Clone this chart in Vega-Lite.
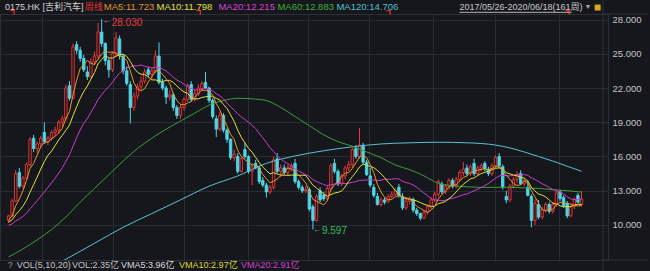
{
"$schema":"https://vega.github.io/schema/vega-lite/v6.json",
"width":608,"height":246,
"autosize":{"type":"none"},
"padding":{"left":0,"top":14,"right":42,"bottom":11},
"background":"#16171c",
"config":{"view":{"stroke":"#2e3037","strokeWidth":1},"text":{"font":"Liberation Sans, Noto Sans CJK SC"},
 "axis":{"gridColor":"#2a2c33","labelColor":"#c4c4c4","ticks":false,"domain":false,"title":null}},
"datasets":{
"k":[
{"i":0,"o":10.4,"h":10.9,"l":10.2,"c":10.8,"m5":10.44,"m10":10.24,"m20":9.97},
{"i":1,"o":10.8,"h":12.3,"l":10.7,"c":12.1,"m5":10.80,"m10":10.46,"m20":10.10},
{"i":2,"o":12.1,"h":14.8,"l":12.0,"c":14.5,"m5":11.68,"m10":10.91,"m20":10.36},
{"i":3,"o":14.6,"h":15.0,"l":13.2,"c":13.4,"m5":12.28,"m10":11.24,"m20":10.52},
{"i":4,"o":13.4,"h":14.3,"l":13.2,"c":14.1,"m5":12.98,"m10":11.65,"m20":10.75},
{"i":5,"o":14.1,"h":15.5,"l":14.0,"c":15.3,"m5":13.88,"m10":12.16,"m20":11.03},
{"i":6,"o":15.3,"h":17.7,"l":15.1,"c":17.5,"m5":14.96,"m10":12.88,"m20":11.42},
{"i":7,"o":17.6,"h":17.9,"l":16.4,"c":16.7,"m5":15.40,"m10":13.54,"m20":11.77},
{"i":8,"o":16.7,"h":17.3,"l":16.3,"c":17.1,"m5":16.14,"m10":14.21,"m20":12.13},
{"i":9,"o":17.1,"h":17.8,"l":16.8,"c":17.6,"m5":16.84,"m10":14.91,"m20":12.53},
{"i":10,"o":18.1,"h":19.0,"l":17.1,"c":17.3,"m5":17.24,"m10":15.56,"m20":12.90},
{"i":11,"o":17.3,"h":17.8,"l":17.0,"c":17.6,"m5":17.26,"m10":16.11,"m20":13.29},
{"i":12,"o":17.6,"h":18.3,"l":17.4,"c":18.1,"m5":17.54,"m10":16.47,"m20":13.69},
{"i":13,"o":18.1,"h":18.6,"l":17.8,"c":18.3,"m5":17.78,"m10":16.96,"m20":14.10},
{"i":14,"o":18.3,"h":19.2,"l":18.0,"c":19.0,"m5":18.06,"m10":17.45,"m20":14.55},
{"i":15,"o":19.0,"h":19.6,"l":18.6,"c":19.3,"m5":18.46,"m10":17.85,"m20":15.01},
{"i":16,"o":19.3,"h":22.3,"l":19.1,"c":22.0,"m5":19.34,"m10":18.30,"m20":15.59},
{"i":17,"o":22.2,"h":22.6,"l":20.9,"c":21.1,"m5":19.94,"m10":18.74,"m20":16.14},
{"i":18,"o":21.1,"h":25.9,"l":21.0,"c":25.6,"m5":21.40,"m10":19.59,"m20":16.90},
{"i":19,"o":25.8,"h":26.1,"l":25.0,"c":25.3,"m5":22.66,"m10":20.36,"m20":17.64},
{"i":20,"o":25.3,"h":25.6,"l":24.3,"c":24.6,"m5":23.72,"m10":21.09,"m20":18.33},
{"i":21,"o":24.6,"h":24.9,"l":23.4,"c":23.6,"m5":24.04,"m10":21.69,"m20":18.90},
{"i":22,"o":23.4,"h":23.9,"l":22.7,"c":23.0,"m5":24.42,"m10":22.18,"m20":19.33},
{"i":23,"o":23.0,"h":24.6,"l":22.8,"c":24.3,"m5":24.16,"m10":22.78,"m20":19.87},
{"i":24,"o":24.3,"h":25.2,"l":24.0,"c":24.8,"m5":24.06,"m10":23.36,"m20":20.41},
{"i":25,"o":24.8,"h":27.7,"l":24.5,"c":26.9,"m5":24.52,"m10":24.12,"m20":20.99},
{"i":26,"o":26.9,"h":28.03,"l":25.6,"c":25.9,"m5":24.98,"m10":24.51,"m20":21.41},
{"i":27,"o":25.9,"h":26.0,"l":24.0,"c":24.4,"m5":25.26,"m10":24.84,"m20":21.79},
{"i":28,"o":24.4,"h":24.6,"l":22.9,"c":23.6,"m5":25.12,"m10":24.64,"m20":22.12},
{"i":29,"o":23.6,"h":25.2,"l":23.4,"c":25.0,"m5":25.16,"m10":24.61,"m20":22.49},
{"i":30,"o":25.0,"h":26.9,"l":24.8,"c":26.4,"m5":25.06,"m10":24.79,"m20":22.94},
{"i":31,"o":26.3,"h":26.6,"l":24.5,"c":24.8,"m5":24.84,"m10":24.91,"m20":23.30},
{"i":32,"o":24.8,"h":25.0,"l":23.2,"c":23.5,"m5":24.66,"m10":24.96,"m20":23.57},
{"i":33,"o":23.5,"h":23.9,"l":22.2,"c":22.4,"m5":24.42,"m10":24.77,"m20":23.78},
{"i":34,"o":22.3,"h":22.6,"l":18.9,"c":20.3,"m5":23.48,"m10":24.32,"m20":23.84},
{"i":35,"o":20.3,"h":21.6,"l":20.0,"c":21.3,"m5":22.46,"m10":23.76,"m20":23.94},
{"i":36,"o":21.3,"h":22.4,"l":21.0,"c":22.1,"m5":21.92,"m10":23.38,"m20":23.95},
{"i":37,"o":22.1,"h":23.0,"l":21.8,"c":22.6,"m5":21.74,"m10":23.20,"m20":24.02},
{"i":38,"o":22.6,"h":23.7,"l":22.4,"c":23.4,"m5":21.94,"m10":23.18,"m20":23.91},
{"i":39,"o":23.6,"h":23.9,"l":22.9,"c":23.2,"m5":22.52,"m10":23.00,"m20":23.81},
{"i":40,"o":23.2,"h":23.8,"l":22.8,"c":23.5,"m5":22.96,"m10":22.71,"m20":23.75},
{"i":41,"o":23.5,"h":25.3,"l":23.3,"c":24.8,"m5":23.50,"m10":22.71,"m20":23.81},
{"i":42,"o":24.8,"h":26.0,"l":22.3,"c":22.5,"m5":23.48,"m10":22.61,"m20":23.79},
{"i":43,"o":22.5,"h":22.8,"l":21.8,"c":22.0,"m5":23.20,"m10":22.57,"m20":23.67},
{"i":44,"o":22.0,"h":22.2,"l":20.6,"c":21.2,"m5":22.80,"m10":22.66,"m20":23.49},
{"i":45,"o":21.2,"h":21.8,"l":20.9,"c":21.4,"m5":22.38,"m10":22.67,"m20":23.22},
{"i":46,"o":21.4,"h":21.6,"l":20.0,"c":20.3,"m5":21.48,"m10":22.49,"m20":22.94},
{"i":47,"o":20.3,"h":20.5,"l":19.3,"c":19.6,"m5":20.90,"m10":22.19,"m20":22.70},
{"i":48,"o":19.6,"h":20.6,"l":19.3,"c":20.3,"m5":20.56,"m10":21.88,"m20":22.53},
{"i":49,"o":20.3,"h":21.2,"l":20.0,"c":21.0,"m5":20.52,"m10":21.66,"m20":22.33},
{"i":50,"o":21.0,"h":22.4,"l":20.8,"c":22.2,"m5":20.68,"m10":21.53,"m20":22.12},
{"i":51,"o":22.3,"h":22.6,"l":20.8,"c":21.0,"m5":20.82,"m10":21.15,"m20":21.93},
{"i":52,"o":21.0,"h":21.8,"l":20.8,"c":21.5,"m5":21.20,"m10":21.05,"m20":21.83},
{"i":53,"o":21.5,"h":22.3,"l":21.3,"c":22.0,"m5":21.54,"m10":21.05,"m20":21.81},
{"i":54,"o":21.9,"h":22.6,"l":21.7,"c":22.4,"m5":21.82,"m10":21.17,"m20":21.92},
{"i":55,"o":22.5,"h":23.4,"l":21.9,"c":22.0,"m5":21.78,"m10":21.23,"m20":21.95},
{"i":56,"o":22.0,"h":22.1,"l":20.7,"c":20.9,"m5":21.76,"m10":21.29,"m20":21.89},
{"i":57,"o":20.9,"h":21.1,"l":19.3,"c":19.5,"m5":21.36,"m10":21.28,"m20":21.74},
{"i":58,"o":19.3,"h":19.6,"l":17.7,"c":18.4,"m5":20.64,"m10":21.09,"m20":21.49},
{"i":59,"o":18.4,"h":19.9,"l":18.2,"c":19.6,"m5":20.08,"m10":20.95,"m20":21.31},
{"i":60,"o":19.6,"h":19.8,"l":18.1,"c":18.3,"m5":19.34,"m10":20.56,"m20":21.05},
{"i":61,"o":18.3,"h":18.5,"l":17.2,"c":17.5,"m5":18.66,"m10":20.21,"m20":20.68},
{"i":62,"o":17.5,"h":17.6,"l":15.7,"c":15.9,"m5":17.94,"m10":19.65,"m20":20.35},
{"i":63,"o":15.9,"h":16.6,"l":15.6,"c":16.2,"m5":17.50,"m10":19.07,"m20":20.06},
{"i":64,"o":16.0,"h":16.3,"l":14.5,"c":14.7,"m5":16.52,"m10":18.30,"m20":19.74},
{"i":65,"o":14.7,"h":16.0,"l":14.6,"c":15.8,"m5":16.02,"m10":17.68,"m20":19.46},
{"i":66,"o":16.6,"h":17.2,"l":15.8,"c":16.0,"m5":15.72,"m10":17.19,"m20":19.24},
{"i":67,"o":16.0,"h":16.1,"l":14.5,"c":14.7,"m5":15.48,"m10":16.71,"m20":19.00},
{"i":68,"o":14.7,"h":15.4,"l":13.5,"c":15.1,"m5":15.26,"m10":16.38,"m20":18.74},
{"i":69,"o":15.4,"h":15.7,"l":14.9,"c":15.0,"m5":15.32,"m10":15.92,"m20":18.44},
{"i":70,"o":15.0,"h":15.2,"l":13.6,"c":13.8,"m5":14.92,"m10":15.47,"m20":18.02},
{"i":71,"o":13.9,"h":14.2,"l":13.3,"c":13.5,"m5":14.42,"m10":15.07,"m20":17.64},
{"i":72,"o":13.5,"h":13.7,"l":12.4,"c":12.9,"m5":14.06,"m10":14.77,"m20":17.21},
{"i":73,"o":12.9,"h":13.5,"l":12.7,"c":13.3,"m5":13.70,"m10":14.48,"m20":16.78},
{"i":74,"o":13.3,"h":16.0,"l":13.1,"c":15.7,"m5":13.84,"m10":14.58,"m20":16.44},
{"i":75,"o":15.8,"h":16.3,"l":14.5,"c":14.7,"m5":14.02,"m10":14.47,"m20":16.08},
{"i":76,"o":14.7,"h":15.3,"l":14.2,"c":15.0,"m5":14.32,"m10":14.37,"m20":15.78},
{"i":77,"o":15.0,"h":15.3,"l":14.4,"c":14.6,"m5":14.66,"m10":14.36,"m20":15.54},
{"i":78,"o":14.6,"h":15.3,"l":14.3,"c":15.0,"m5":15.00,"m10":14.35,"m20":15.37},
{"i":79,"o":15.0,"h":15.4,"l":14.7,"c":15.2,"m5":14.90,"m10":14.37,"m20":15.15},
{"i":80,"o":15.4,"h":15.8,"l":13.6,"c":13.8,"m5":14.72,"m10":14.37,"m20":14.92},
{"i":81,"o":13.8,"h":14.0,"l":13.1,"c":13.3,"m5":14.38,"m10":14.35,"m20":14.71},
{"i":82,"o":13.3,"h":13.5,"l":12.8,"c":13.0,"m5":14.06,"m10":14.36,"m20":14.57},
{"i":83,"o":13.0,"h":13.4,"l":12.8,"c":13.1,"m5":13.68,"m10":14.34,"m20":14.41},
{"i":84,"o":13.1,"h":13.3,"l":11.2,"c":11.4,"m5":12.92,"m10":13.91,"m20":14.25},
{"i":85,"o":11.6,"h":11.8,"l":9.597,"c":10.4,"m5":12.24,"m10":13.48,"m20":13.98},
{"i":86,"o":10.4,"h":12.7,"l":10.3,"c":12.5,"m5":12.08,"m10":13.23,"m20":13.80},
{"i":87,"o":13.0,"h":13.3,"l":12.0,"c":12.2,"m5":11.92,"m10":12.99,"m20":13.68},
{"i":88,"o":12.6,"h":12.9,"l":12.1,"c":12.3,"m5":11.76,"m10":12.72,"m20":13.54},
{"i":89,"o":12.3,"h":13.4,"l":12.1,"c":13.2,"m5":12.12,"m10":12.52,"m20":13.45},
{"i":90,"o":13.2,"h":15.4,"l":13.0,"c":15.2,"m5":13.08,"m10":12.66,"m20":13.52},
{"i":91,"o":15.4,"h":15.8,"l":14.5,"c":14.7,"m5":13.52,"m10":12.80,"m20":13.58},
{"i":92,"o":14.7,"h":14.9,"l":13.4,"c":13.6,"m5":13.80,"m10":12.86,"m20":13.61},
{"i":93,"o":13.6,"h":14.5,"l":13.4,"c":14.3,"m5":14.20,"m10":12.98,"m20":13.66},
{"i":94,"o":14.3,"h":15.2,"l":14.0,"c":15.0,"m5":14.56,"m10":13.34,"m20":13.63},
{"i":95,"o":15.0,"h":15.6,"l":14.7,"c":15.3,"m5":14.58,"m10":13.83,"m20":13.66},
{"i":96,"o":15.3,"h":16.8,"l":15.0,"c":16.6,"m5":14.96,"m10":14.24,"m20":13.74},
{"i":97,"o":16.7,"h":17.0,"l":15.8,"c":16.0,"m5":15.44,"m10":14.62,"m20":13.81},
{"i":98,"o":16.0,"h":18.5,"l":15.8,"c":17.0,"m5":15.98,"m10":15.09,"m20":13.91},
{"i":99,"o":17.0,"h":17.2,"l":15.3,"c":15.5,"m5":16.08,"m10":15.32,"m20":13.92},
{"i":100,"o":15.5,"h":15.7,"l":14.3,"c":14.4,"m5":15.90,"m10":15.24,"m20":13.95},
{"i":101,"o":14.3,"h":15.0,"l":13.3,"c":13.5,"m5":15.28,"m10":15.12,"m20":13.96},
{"i":102,"o":13.3,"h":13.6,"l":12.4,"c":12.6,"m5":14.60,"m10":15.02,"m20":13.94},
{"i":103,"o":12.5,"h":12.8,"l":11.7,"c":11.8,"m5":13.56,"m10":14.77,"m20":13.88},
{"i":104,"o":11.8,"h":12.4,"l":11.6,"c":12.2,"m5":12.90,"m10":14.49,"m20":13.92},
{"i":105,"o":12.2,"h":12.4,"l":11.8,"c":12.0,"m5":12.42,"m10":14.16,"m20":14.00},
{"i":106,"o":12.1,"h":12.7,"l":11.9,"c":12.5,"m5":12.22,"m10":13.75,"m20":14.00},
{"i":107,"o":12.5,"h":12.9,"l":12.3,"c":12.7,"m5":12.24,"m10":13.42,"m20":14.02},
{"i":108,"o":12.7,"h":13.2,"l":12.5,"c":13.0,"m5":12.48,"m10":13.02,"m20":14.06},
{"i":109,"o":13.3,"h":13.6,"l":12.4,"c":12.6,"m5":12.56,"m10":12.73,"m20":14.03},
{"i":110,"o":12.5,"h":12.8,"l":11.3,"c":11.5,"m5":12.46,"m10":12.44,"m20":13.84},
{"i":111,"o":11.5,"h":12.3,"l":11.3,"c":12.1,"m5":12.38,"m10":12.30,"m20":13.71},
{"i":112,"o":12.1,"h":12.5,"l":11.8,"c":12.3,"m5":12.30,"m10":12.27,"m20":13.65},
{"i":113,"o":12.2,"h":12.4,"l":11.1,"c":11.3,"m5":11.96,"m10":12.22,"m20":13.50},
{"i":114,"o":11.3,"h":11.5,"l":10.8,"c":11.0,"m5":11.64,"m10":12.10,"m20":13.30},
{"i":115,"o":11.0,"h":11.1,"l":10.4,"c":10.6,"m5":11.46,"m10":11.96,"m20":13.06},
{"i":116,"o":10.6,"h":11.3,"l":10.5,"c":11.1,"m5":11.26,"m10":11.82,"m20":12.79},
{"i":117,"o":11.1,"h":11.8,"l":10.9,"c":11.6,"m5":11.12,"m10":11.71,"m20":12.57},
{"i":118,"o":11.6,"h":12.4,"l":11.4,"c":12.2,"m5":11.30,"m10":11.63,"m20":12.33},
{"i":119,"o":12.2,"h":12.9,"l":12.0,"c":12.7,"m5":11.64,"m10":11.64,"m20":12.19},
{"i":120,"o":12.7,"h":14.0,"l":12.5,"c":13.8,"m5":12.28,"m10":11.87,"m20":12.16},
{"i":121,"o":13.6,"h":13.8,"l":12.7,"c":12.9,"m5":12.64,"m10":11.95,"m20":12.13},
{"i":122,"o":12.9,"h":13.6,"l":12.7,"c":13.4,"m5":13.00,"m10":12.06,"m20":12.17},
{"i":123,"o":13.4,"h":14.1,"l":13.1,"c":13.9,"m5":13.34,"m10":12.32,"m20":12.27},
{"i":124,"o":13.9,"h":14.1,"l":13.2,"c":13.4,"m5":13.48,"m10":12.56,"m20":12.33},
{"i":125,"o":13.4,"h":14.2,"l":13.2,"c":14.0,"m5":13.52,"m10":12.90,"m20":12.43},
{"i":126,"o":14.0,"h":14.8,"l":13.8,"c":14.6,"m5":13.86,"m10":13.25,"m20":12.54},
{"i":127,"o":14.6,"h":15.5,"l":14.3,"c":14.9,"m5":14.16,"m10":13.58,"m20":12.65},
{"i":128,"o":15.0,"h":15.3,"l":14.3,"c":14.5,"m5":14.28,"m10":13.81,"m20":12.72},
{"i":129,"o":14.5,"h":15.3,"l":14.3,"c":15.1,"m5":14.62,"m10":14.05,"m20":12.85},
{"i":130,"o":15.4,"h":15.8,"l":14.3,"c":14.5,"m5":14.72,"m10":14.12,"m20":13.00},
{"i":131,"o":14.5,"h":15.2,"l":14.3,"c":15.0,"m5":14.80,"m10":14.33,"m20":13.14},
{"i":132,"o":15.0,"h":15.4,"l":14.7,"c":15.2,"m5":14.86,"m10":14.51,"m20":13.29},
{"i":133,"o":15.4,"h":15.6,"l":14.7,"c":14.9,"m5":14.94,"m10":14.61,"m20":13.47},
{"i":134,"o":14.9,"h":15.1,"l":14.3,"c":14.5,"m5":14.82,"m10":14.72,"m20":13.64},
{"i":135,"o":14.5,"h":15.4,"l":14.3,"c":15.2,"m5":14.96,"m10":14.84,"m20":13.87},
{"i":136,"o":15.2,"h":16.1,"l":15.0,"c":15.9,"m5":15.14,"m10":14.97,"m20":14.11},
{"i":137,"o":16.0,"h":16.3,"l":15.0,"c":15.2,"m5":15.14,"m10":15.00,"m20":14.29},
{"i":138,"o":15.1,"h":15.3,"l":13.1,"c":13.3,"m5":14.82,"m10":14.88,"m20":14.35},
{"i":139,"o":12.5,"h":13.0,"l":11.9,"c":12.2,"m5":14.36,"m10":14.59,"m20":14.32},
{"i":140,"o":12.2,"h":13.6,"l":12.0,"c":13.4,"m5":14.00,"m10":14.48,"m20":14.30},
{"i":141,"o":13.4,"h":14.2,"l":13.2,"c":14.0,"m5":13.62,"m10":14.38,"m20":14.36},
{"i":142,"o":14.0,"h":14.7,"l":13.7,"c":14.4,"m5":13.46,"m10":14.30,"m20":14.41},
{"i":143,"o":14.5,"h":14.8,"l":13.5,"c":13.6,"m5":13.52,"m10":14.17,"m20":14.39},
{"i":144,"o":13.6,"h":14.1,"l":13.4,"c":13.9,"m5":13.86,"m10":14.11,"m20":14.42},
{"i":145,"o":13.3,"h":13.9,"l":12.5,"c":12.6,"m5":13.70,"m10":13.85,"m20":14.35},
{"i":146,"o":12.5,"h":12.7,"l":9.8,"c":10.4,"m5":12.98,"m10":13.30,"m20":14.14},
{"i":147,"o":10.4,"h":12.3,"l":10.0,"c":11.9,"m5":12.48,"m10":12.97,"m20":13.99},
{"i":148,"o":11.8,"h":12.2,"l":10.5,"c":10.7,"m5":11.90,"m10":12.71,"m20":13.80},
{"i":149,"o":10.7,"h":11.6,"l":10.5,"c":11.3,"m5":11.38,"m10":12.62,"m20":13.61},
{"i":150,"o":11.3,"h":12.0,"l":11.1,"c":11.8,"m5":11.22,"m10":12.46,"m20":13.47},
{"i":151,"o":11.8,"h":12.0,"l":11.0,"c":11.2,"m5":11.38,"m10":12.18,"m20":13.28},
{"i":152,"o":11.2,"h":12.0,"l":11.0,"c":11.8,"m5":11.36,"m10":11.92,"m20":13.11},
{"i":153,"o":11.8,"h":13.0,"l":11.6,"c":12.8,"m5":11.78,"m10":11.84,"m20":13.01},
{"i":154,"o":12.9,"h":13.1,"l":12.1,"c":12.3,"m5":11.98,"m10":11.68,"m20":12.90},
{"i":155,"o":12.4,"h":12.6,"l":11.5,"c":11.7,"m5":11.96,"m10":11.59,"m20":12.72},
{"i":156,"o":11.9,"h":12.1,"l":10.6,"c":10.8,"m5":11.88,"m10":11.63,"m20":12.47},
{"i":157,"o":10.8,"h":11.8,"l":10.7,"c":11.6,"m5":11.84,"m10":11.60,"m20":12.29},
{"i":158,"o":11.6,"h":12.4,"l":11.4,"c":12.2,"m5":11.72,"m10":11.75,"m20":12.23},
{"i":159,"o":12.6,"h":12.8,"l":11.9,"c":12.0,"m5":11.66,"m10":11.82,"m20":12.22},
{"i":160,"o":11.8,"h":13.0,"l":11.6,"c":12.3,"m5":11.72,"m10":11.80,"m20":12.215}
],
"slow":[
{"i":0,"m60":7.2,"m120":4.3},{"i":4,"m60":7.9},{"i":8,"m60":8.7,"m120":5.6},{"i":12,"m60":9.6},{"i":16,"m60":10.7,"m120":7.0},{"i":20,"m60":12.0},{"i":24,"m60":13.2,"m120":8.4},{"i":28,"m60":14.4},{"i":32,"m60":15.6,"m120":9.8},{"i":36,"m60":16.7},{"i":40,"m60":17.6,"m120":11.0},{"i":44,"m60":18.4},{"i":48,"m60":19.1,"m120":12.2},{"i":52,"m60":19.8},{"i":56,"m60":20.5,"m120":13.4},{"i":60,"m60":20.9},{"i":64,"m60":21.1,"m120":14.3},{"i":68,"m60":21.05},{"i":72,"m60":20.9,"m120":15.4},{"i":76,"m60":20.3},{"i":80,"m60":19.5,"m120":16.05},{"i":84,"m60":18.7},{"i":88,"m60":17.9,"m120":16.5},{"i":92,"m60":17.3},{"i":96,"m60":16.9,"m120":16.85},{"i":100,"m60":16.4},{"i":104,"m60":15.9,"m120":17.1},{"i":108,"m60":15.25},{"i":112,"m60":14.85,"m120":17.2},{"i":116,"m60":14.3},{"i":120,"m60":13.65,"m120":17.25},{"i":124,"m60":13.45},{"i":128,"m60":13.35,"m120":17.2},{"i":132,"m60":13.3},{"i":136,"m60":13.3,"m120":17.0},{"i":140,"m60":13.3,"m120":16.75},{"i":144,"m60":13.25,"m120":16.4},{"i":148,"m60":13.2,"m120":16.0},{"i":152,"m60":13.1,"m120":15.6},{"i":156,"m60":13.0,"m120":15.15},{"i":160,"m60":12.883,"m120":14.706}
]
},
"layer":[
{"data":{"name":"k"},"mark":{"type":"rule","strokeWidth":1},
 "encoding":{
  "x":{"field":"i","type":"quantitative","scale":{"domain":[-1,166],"nice":false,"zero":false},
   "axis":{"orient":"bottom","values":[9.44,18.78,29.21,39.38,48.99,58.05,66.84,75.08,83.6,91.84,100.63,109.42,118.48,126.72,135.79,145.13,153.64],"grid":true,"labels":false,"title":null}},
  "y":{"field":"l","type":"quantitative","scale":{"domain":[6.934,28.482],"nice":false,"zero":false},
   "axis":{"orient":"right","values":[10,13,16,19,22,25,28],"format":".3f","grid":true,"labelFontSize":9.5,"labelFont":"Liberation Sans","labelPadding":4,"title":null}},
  "y2":{"field":"h"},
  "color":{"condition":{"test":"datum.c >= datum.o","value":"#f03838"},"value":"#4fd6e6"}}},
{"data":{"name":"k"},"mark":{"type":"bar","width":2.4,"strokeWidth":0.9},
 "encoding":{
  "x":{"field":"i","type":"quantitative","scale":{"domain":[-1,166],"nice":false,"zero":false}},
  "y":{"field":"o","type":"quantitative","scale":{"domain":[6.934,28.482],"nice":false,"zero":false}},
  "y2":{"field":"c"},
  "fill":{"condition":{"test":"datum.c >= datum.o","value":"#16171c"},"value":"#4fd6e6"},
  "stroke":{"condition":{"test":"datum.c >= datum.o","value":"#f03838"},"value":"#4fd6e6"}}},
{"data":{"name":"slow"},"transform":[{"filter":"isValid(datum.m120)"}],"mark":{"type":"line","strokeWidth":1,"color":"#58c2d0","interpolate":"monotone","clip":true},
 "encoding":{
  "x":{"field":"i","type":"quantitative","scale":{"domain":[-1,166],"nice":false,"zero":false}},
  "y":{"field":"m120","type":"quantitative","scale":{"domain":[6.934,28.482],"nice":false,"zero":false}}}},
{"data":{"name":"slow"},"mark":{"type":"line","strokeWidth":1,"color":"#3a9e3a","interpolate":"monotone","clip":true},
 "encoding":{
  "x":{"field":"i","type":"quantitative","scale":{"domain":[-1,166],"nice":false,"zero":false}},
  "y":{"field":"m60","type":"quantitative","scale":{"domain":[6.934,28.482],"nice":false,"zero":false}}}},
{"data":{"name":"k"},"mark":{"type":"line","strokeWidth":1,"color":"#cc3ccc","clip":true},
 "encoding":{
  "x":{"field":"i","type":"quantitative","scale":{"domain":[-1,166],"nice":false,"zero":false}},
  "y":{"field":"m20","type":"quantitative","scale":{"domain":[6.934,28.482],"nice":false,"zero":false}}}},
{"data":{"name":"k"},"mark":{"type":"line","strokeWidth":1,"color":"#e2e03a","clip":true},
 "encoding":{
  "x":{"field":"i","type":"quantitative","scale":{"domain":[-1,166],"nice":false,"zero":false}},
  "y":{"field":"m10","type":"quantitative","scale":{"domain":[6.934,28.482],"nice":false,"zero":false}}}},
{"data":{"name":"k"},"mark":{"type":"line","strokeWidth":1,"color":"#e8962c","clip":true},
 "encoding":{
  "x":{"field":"i","type":"quantitative","scale":{"domain":[-1,166],"nice":false,"zero":false}},
  "y":{"field":"m5","type":"quantitative","scale":{"domain":[6.934,28.482],"nice":false,"zero":false}}}},
{"data":{"values":[{"i":26,"p":28.03}]},"mark":{"type":"text","align":"left","baseline":"middle","dx":1,"dy":2,"fontSize":8,"color":"#b8b8b8","text":"←"},
 "encoding":{
  "x":{"field":"i","type":"quantitative","scale":{"domain":[-1,166],"nice":false,"zero":false}},
  "y":{"field":"p","type":"quantitative","scale":{"domain":[6.934,28.482],"nice":false,"zero":false}}}},
{"data":{"values":[{"i":26,"p":28.03,"t":"28.030"}]},"mark":{"type":"text","align":"left","baseline":"middle","dx":10,"dy":4,"fontSize":10,"color":"#e83a3a"},
 "encoding":{
  "x":{"field":"i","type":"quantitative","scale":{"domain":[-1,166],"nice":false,"zero":false}},
  "y":{"field":"p","type":"quantitative","scale":{"domain":[6.934,28.482],"nice":false,"zero":false}},
  "text":{"field":"t"}}},
{"data":{"values":[{"i":85,"p":9.597}]},"mark":{"type":"text","align":"left","baseline":"middle","dx":0,"dy":0,"fontSize":8,"color":"#b8b8b8","text":"←"},
 "encoding":{
  "x":{"field":"i","type":"quantitative","scale":{"domain":[-1,166],"nice":false,"zero":false}},
  "y":{"field":"p","type":"quantitative","scale":{"domain":[6.934,28.482],"nice":false,"zero":false}}}},
{"data":{"values":[{"i":85,"p":9.597,"t":"9.597"}]},"mark":{"type":"text","align":"left","baseline":"middle","dx":9,"dy":1,"fontSize":10,"color":"#3cb85a"},
 "encoding":{
  "x":{"field":"i","type":"quantitative","scale":{"domain":[-1,166],"nice":false,"zero":false}},
  "y":{"field":"p","type":"quantitative","scale":{"domain":[6.934,28.482],"nice":false,"zero":false}},
  "text":{"field":"t"}}},
{"data":{"values":[{"i":1},{"i":53},{"i":106},{"i":156}]},"mark":{"type":"point","shape":"M-1,-1L1,-1L1,1","filled":false,"strokeWidth":1.3,"size":16,"color":"#e82828","opacity":1},
 "encoding":{
  "x":{"field":"i","type":"quantitative","scale":{"domain":[-1,166],"nice":false,"zero":false}},
  "y":{"datum":28.6,"type":"quantitative","scale":{"domain":[6.934,28.482],"nice":false,"zero":false}}}},
{"data":{"values":[{}]},"mark":{"type":"text","align":"left","baseline":"middle","fontSize":9,"color":"#d6d6d6","text":"0175.HK [吉利汽车]"},
 "encoding":{"x":{"datum":-1,"type":"quantitative","scale":{"domain":[-1,166],"nice":false,"zero":false}},"y":{"datum":29.12,"type":"quantitative","scale":{"domain":[6.934,28.482],"nice":false,"zero":false}}}},
{"data":{"values":[{}]},"mark":{"type":"text","align":"left","baseline":"middle","fontSize":9,"color":"#e8302f","text":"周线"},
 "encoding":{"x":{"datum":21.3,"type":"quantitative","scale":{"domain":[-1,166],"nice":false,"zero":false}},"y":{"datum":29.12,"type":"quantitative","scale":{"domain":[6.934,28.482],"nice":false,"zero":false}}}},
{"data":{"values":[{}]},"mark":{"type":"text","align":"left","baseline":"middle","fontSize":9.5,"color":"#e0942c","text":"MA5:11.723"},
 "encoding":{"x":{"datum":26.6,"type":"quantitative","scale":{"domain":[-1,166],"nice":false,"zero":false}},"y":{"datum":29.12,"type":"quantitative","scale":{"domain":[6.934,28.482],"nice":false,"zero":false}}}},
{"data":{"values":[{}]},"mark":{"type":"text","align":"left","baseline":"middle","fontSize":9.5,"color":"#e2e03a","text":"MA10:11.798"},
 "encoding":{"x":{"datum":41.3,"type":"quantitative","scale":{"domain":[-1,166],"nice":false,"zero":false}},"y":{"datum":29.12,"type":"quantitative","scale":{"domain":[6.934,28.482],"nice":false,"zero":false}}}},
{"data":{"values":[{}]},"mark":{"type":"text","align":"left","baseline":"middle","fontSize":9.5,"color":"#d840d8","text":"MA20:12.215"},
 "encoding":{"x":{"datum":58.6,"type":"quantitative","scale":{"domain":[-1,166],"nice":false,"zero":false}},"y":{"datum":29.12,"type":"quantitative","scale":{"domain":[6.934,28.482],"nice":false,"zero":false}}}},
{"data":{"values":[{}]},"mark":{"type":"text","align":"left","baseline":"middle","fontSize":9.5,"color":"#3cb03c","text":"MA60:12.883"},
 "encoding":{"x":{"datum":75.08,"type":"quantitative","scale":{"domain":[-1,166],"nice":false,"zero":false}},"y":{"datum":29.12,"type":"quantitative","scale":{"domain":[6.934,28.482],"nice":false,"zero":false}}}},
{"data":{"values":[{}]},"mark":{"type":"text","align":"left","baseline":"middle","fontSize":9.5,"color":"#4cc0cc","text":"MA120:14.706"},
 "encoding":{"x":{"datum":91.56,"type":"quantitative","scale":{"domain":[-1,166],"nice":false,"zero":false}},"y":{"datum":29.12,"type":"quantitative","scale":{"domain":[6.934,28.482],"nice":false,"zero":false}}}},
{"data":{"values":[{}]},"mark":{"type":"text","align":"left","baseline":"middle","fontSize":9,"color":"#c8c8c8","text":"2017/05/26-2020/06/18(161周)"},
 "encoding":{"x":{"datum":125.9,"type":"quantitative","scale":{"domain":[-1,166],"nice":false,"zero":false}},"y":{"datum":29.12,"type":"quantitative","scale":{"domain":[6.934,28.482],"nice":false,"zero":false}}}},
{"data":{"values":[{}]},"mark":{"type":"rule","strokeWidth":1,"color":"#b4b4b4"},
 "encoding":{"x":{"datum":125.9,"type":"quantitative","scale":{"domain":[-1,166],"nice":false,"zero":false}},"x2":{"datum":157.2},"y":{"datum":28.63,"type":"quantitative","scale":{"domain":[6.934,28.482],"nice":false,"zero":false}}}},
{"data":{"values":[{}]},"mark":{"type":"text","align":"center","baseline":"middle","fontSize":7,"color":"#a8a8a8","text":"▼"},
 "encoding":{"x":{"datum":161.8,"type":"quantitative","scale":{"domain":[-1,166],"nice":false,"zero":false}},"y":{"datum":29.12,"type":"quantitative","scale":{"domain":[6.934,28.482],"nice":false,"zero":false}}}},
{"data":{"values":[{}]},"mark":{"type":"point","shape":"square","filled":true,"size":36,"color":"#d8a81c","opacity":1},
 "encoding":{"x":{"datum":164.5,"type":"quantitative","scale":{"domain":[-1,166],"nice":false,"zero":false}},"y":{"datum":29.05,"type":"quantitative","scale":{"domain":[6.934,28.482],"nice":false,"zero":false}}}},
{"data":{"values":[{}]},"mark":{"type":"text","align":"left","baseline":"middle","fontSize":9,"color":"#9a9a9a","text":"?"},
 "encoding":{"x":{"datum":-0.2,"type":"quantitative","scale":{"domain":[-1,166],"nice":false,"zero":false}},"y":{"datum":6.5,"type":"quantitative","scale":{"domain":[6.934,28.482],"nice":false,"zero":false}}}},
{"data":{"values":[{}]},"mark":{"type":"text","align":"left","baseline":"middle","fontSize":9,"color":"#c4c4c4","text":"VOL(5,10,20)"},
 "encoding":{"x":{"datum":2.3,"type":"quantitative","scale":{"domain":[-1,166],"nice":false,"zero":false}},"y":{"datum":6.5,"type":"quantitative","scale":{"domain":[6.934,28.482],"nice":false,"zero":false}}}},
{"data":{"values":[{}]},"mark":{"type":"text","align":"left","baseline":"middle","fontSize":9,"color":"#c4c4c4","text":"VOL:2.35亿"},
 "encoding":{"x":{"datum":17.68,"type":"quantitative","scale":{"domain":[-1,166],"nice":false,"zero":false}},"y":{"datum":6.5,"type":"quantitative","scale":{"domain":[6.934,28.482],"nice":false,"zero":false}}}},
{"data":{"values":[{}]},"mark":{"type":"text","align":"left","baseline":"middle","fontSize":9,"color":"#dcdcdc","text":"VMA5:3.96亿"},
 "encoding":{"x":{"datum":31.41,"type":"quantitative","scale":{"domain":[-1,166],"nice":false,"zero":false}},"y":{"datum":6.5,"type":"quantitative","scale":{"domain":[6.934,28.482],"nice":false,"zero":false}}}},
{"data":{"values":[{}]},"mark":{"type":"text","align":"left","baseline":"middle","fontSize":9,"color":"#dada34","text":"VMA10:2.97亿"},
 "encoding":{"x":{"datum":47.62,"type":"quantitative","scale":{"domain":[-1,166],"nice":false,"zero":false}},"y":{"datum":6.5,"type":"quantitative","scale":{"domain":[6.934,28.482],"nice":false,"zero":false}}}},
{"data":{"values":[{}]},"mark":{"type":"text","align":"left","baseline":"middle","fontSize":9,"color":"#d040d0","text":"VMA20:2.91亿"},
 "encoding":{"x":{"datum":64.92,"type":"quantitative","scale":{"domain":[-1,166],"nice":false,"zero":false}},"y":{"datum":6.5,"type":"quantitative","scale":{"domain":[6.934,28.482],"nice":false,"zero":false}}}},
{"data":{"values":[{}]},"mark":{"type":"rule","strokeWidth":1,"color":"#2e3037"},
 "encoding":{"x":{"datum":166,"type":"quantitative","scale":{"domain":[-1,166],"nice":false,"zero":false}},"y":{"datum":29.8,"type":"quantitative","scale":{"domain":[6.934,28.482],"nice":false,"zero":false}},"y2":{"datum":5.9}}},
{"data":{"values":[{}]},"mark":{"type":"rule","strokeWidth":1,"color":"#2e3037"},
 "encoding":{"x":{"datum":166,"type":"quantitative","scale":{"domain":[-1,166],"nice":false,"zero":false}},"x2":{"datum":178.6},"y":{"datum":6.934,"type":"quantitative","scale":{"domain":[6.934,28.482],"nice":false,"zero":false}}}},
{"data":{"values":[{}]},"mark":{"type":"rule","strokeWidth":1,"color":"#2e3037"},
 "encoding":{"x":{"datum":166,"type":"quantitative","scale":{"domain":[-1,166],"nice":false,"zero":false}},"x2":{"datum":178.6},"y":{"datum":28.482,"type":"quantitative","scale":{"domain":[6.934,28.482],"nice":false,"zero":false}}}}
]
}
